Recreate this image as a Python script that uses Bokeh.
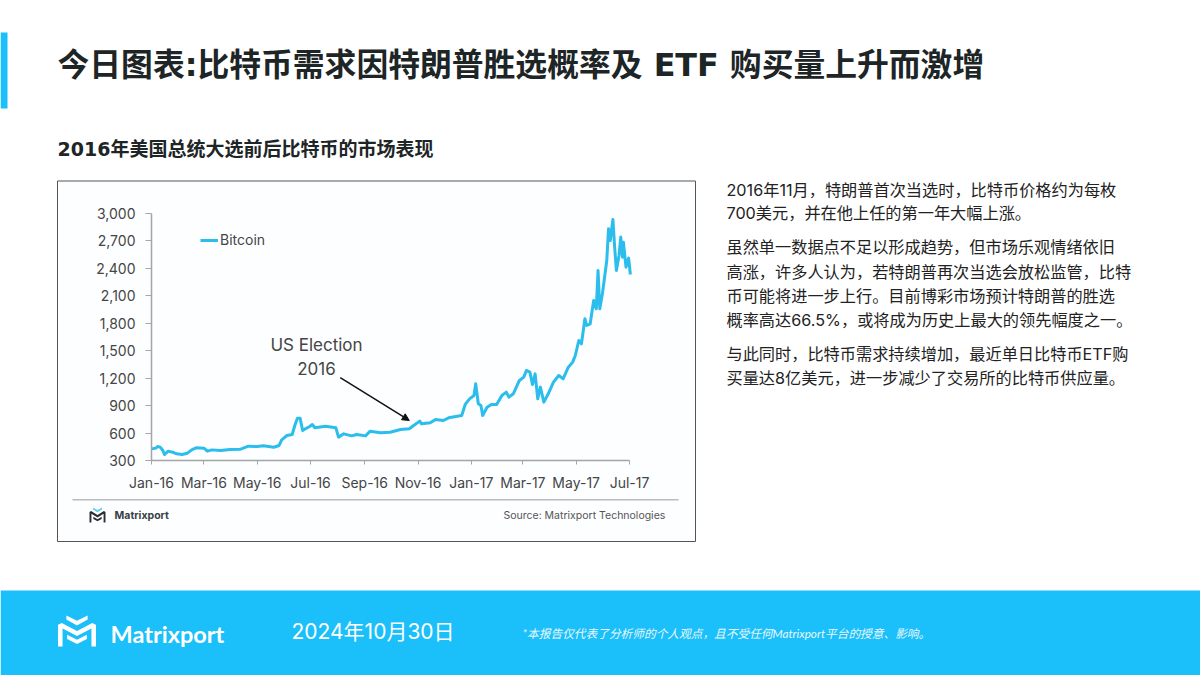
from bokeh.embed import file_html
from bokeh.resources import INLINE
from bokeh.plotting import figure
from bokeh.models import (BoxAnnotation, Label, PolyAnnotation, Arrow, NormalHead, FixedTicker, LinearAxis,
                          Legend, LegendItem, NumeralTickFormatter, Range1d, ColumnDataSource)

# ---- data ----
days_since_2016_01_01 = [0,5,7,10,13,15,19,24,29,35,41,46,51,60,64,69,79,90,102,111,121,128,140,146,149,155,161,164,167,170,173,176,181,184,187,199,211,214,220,229,235,245,250,262,273,285,295,300,307,309,319,325,334,340,355,359,364,369,371,374,377,379,384,389,395,401,406,409,414,421,426,429,433,436,439,442,445,449,454,460,466,471,477,482,485,489,492,496,498,502,506,509,511,513,516,521,523,525,528,530,532,535,537,539,540,543,546,548]
bitcoin_usd = [427,435,453,446,409,365,402,391,373,366,380,416,438,435,402,416,409,420,424,456,453,460,445,464,525,573,584,682,762,762,628,646,671,693,657,675,657,555,591,569,584,569,620,602,609,638,646,682,730,700,711,748,737,766,791,912,973,1010,1137,919,900,791,882,912,912,1010,1046,992,1028,1174,1210,1283,1265,1130,1246,973,1101,937,1028,1155,1228,1192,1319,1374,1447,1610,1574,1847,1774,1792,2047,1956,2375,1956,2120,2484,2830,2702,2932,2630,2375,2539,2739,2520,2684,2411,2510,2331]
x_tick_days = [0,60,121,182,244,305,366,425,486,547]
x_tick_labels = ["Jan-16","Mar-16","May-16","Jul-16","Sep-16","Nov-16","Jan-17","Mar-17","May-17","Jul-17"]
y_ticks = [300,600,900,1200,1500,1800,2100,2400,2700,3000]
series_name = "Bitcoin"
arrow_from_day, arrow_from_value = 216, 1206
arrow_to_day, arrow_to_value = 295, 737
election_text = ["US Election", "2016"]
title_text = "今日图表:比特币需求因特朗普胜选概率及 ETF 购买量上升而激增"
subtitle_text = "2016年美国总统大选前后比特币的市场表现"
body_lines = [
    "2016年11月，特朗普首次当选时，比特币价格约为每枚",
    "700美元，并在他上任的第一年大幅上涨。",
    "虽然单一数据点不足以形成趋势，但市场乐观情绪依旧",
    "高涨，许多人认为，若特朗普再次当选会放松监管，比特",
    "币可能将进一步上行。目前博彩市场预计特朗普的胜选",
    "概率高达66.5%，或将成为历史上最大的领先幅度之一。",
    "与此同时，比特币需求持续增加，最近单日比特币ETF购",
    "买量达8亿美元，进一步减少了交易所的比特币供应量。",
]
brand = "Matrixport"
source_text = "Source: Matrixport Technologies"
date_text = "2024年10月30日"
note_text = "*本报告仅代表了分析师的个人观点，且不受任何Matrixport平台的授意、影响。"

# ---- style ----
SANS = "Lato, 'Noto Sans CJK SC'"
HEAD = "'DejaVu Sans', 'Noto Sans CJK SC'"
BODY = "Inter, 'Noto Sans CJK SC'"
TICK = "Inter"
BLUE = "#1bbff9"
LINE = "#2bbdec"
W, H = 1200, 675
X0, X547 = 151, 629      # page x of the day-axis ends
Y300, Y3000 = 460, 212.7 # page y of the value-axis ends
ppd = (X547 - X0) / 547
ppv = (Y300 - Y3000) / 2700

p = figure(width=W, height=H, output_backend="svg", toolbar_location=None,
           x_range=Range1d(0, W), y_range=Range1d(H, 0),
           x_axis_location=None, y_axis_location=None, min_border=0,
           background_fill_color="white", border_fill_color="white", outline_line_color=None)
p.grid.visible = False
p.extra_x_ranges = {"days": Range1d(-X0 / ppd, (W - X0) / ppd)}
p.extra_y_ranges = {"usd": Range1d(300 - (H - Y300) / ppv, 300 + Y300 / ppv)}

def box(l, r_, t, b, fill, line=None, level="underlay"):
    p.add_layout(BoxAnnotation(left=l, right=r_, top=t, bottom=b,
                               left_units="canvas", right_units="canvas", top_units="canvas", bottom_units="canvas",
                               fill_color=fill, fill_alpha=1, line_color=line, line_alpha=1, line_width=1,
                               level=level, editable=False))

def text(x, y, s, size, color="#222222", font=SANS, style="normal", align="left"):
    p.add_layout(Label(x=x, y=y, x_units="canvas", y_units="canvas", text=s, text_font=font,
                       text_font_size=f"{size}px", text_font_style=style, text_color=color,
                       text_align=align, text_baseline="middle"))

def logo(x0, y0, w, h, color, top_color):
    parts = [
        ([(0,.30),(.10,.24),(.5,.50),(.90,.24),(1,.30),(1,1),(.88,1),(.88,.42),(.5,.66),(.12,.42),(.12,1),(0,1)], color),
        ([(.22,0),(.5,.17),(.78,0),(.78,.13),(.5,.32),(.22,.13)], top_color),
        ([(.24,.62),(.5,.78),(.76,.62),(.76,.76),(.5,.92),(.24,.76)], color),
    ]
    for poly, c in parts:
        p.add_layout(PolyAnnotation(xs=[x0 + a*w for a, _ in poly], ys=[y0 + b*h for _, b in poly],
                                    xs_units="canvas", ys_units="canvas", fill_color=c, fill_alpha=1,
                                    line_color=None, level="underlay"))

box(0, 7, 32, 108, BLUE)
box(0, 1200, 590, 675, BLUE)
box(57, 695, 180.5, 541, "#fdfeff", "#555555")
box(72, 678, 498.5, 500, "#b9bbbd")

src = ColumnDataSource(dict(x=days_since_2016_01_01, y=bitcoin_usd))
r = p.line("x", "y", source=src, line_color=LINE, line_width=3, line_join="round",
           x_range_name="days", y_range_name="usd")

ax = LinearAxis(x_range_name="days", y_range_name="usd", fixed_location=300, bounds=(0, 547),
                ticker=FixedTicker(ticks=x_tick_days), major_label_overrides=dict(zip(x_tick_days, x_tick_labels)))
ay = LinearAxis(x_range_name="days", y_range_name="usd", fixed_location=0, bounds=(300, 3000),
                ticker=FixedTicker(ticks=y_ticks), formatter=NumeralTickFormatter(format="0,0"))
p.add_layout(ax, "below")
p.add_layout(ay, "left")
for a, out, standoff in ((ax, 4, 9), (ay, 6, 10)):
    a.axis_line_color = "#a3a5a7"
    a.axis_line_width = 1.5
    a.major_tick_line_color = "#a3a5a7"
    a.major_tick_out = out
    a.major_tick_in = 0
    a.minor_tick_line_color = None
    a.major_label_text_font = TICK
    a.major_label_text_font_size = "14px"
    a.major_label_text_color = "#454545"
    a.major_label_standoff = standoff

leg = Legend(items=[LegendItem(label=series_name, renderers=[r])], location=(200, H - 240 - 8),
             background_fill_color=None, border_line_color=None, padding=0, margin=0,
             glyph_width=18, glyph_height=16, label_standoff=2,
             label_text_font=TICK, label_text_font_size="14px", label_text_color="#454545")
p.add_layout(leg)

text(57, 64, title_text, 31.8, "#1d2526", font=HEAD, style="bold")
text(57, 148, subtitle_text, 19, "#1d2526", font=HEAD, style="bold")

for y, s in zip([189, 212.7, 246.5, 271, 295, 319, 353, 377], body_lines):
    text(726, y, s, 16.2, font=BODY)

for y, s in zip([344, 368], election_text):
    text(316, y, s, 17, "#454545", font=TICK, align="center")
p.add_layout(Arrow(x_start=arrow_from_day, y_start=arrow_from_value, x_end=arrow_to_day, y_end=arrow_to_value,
                   x_range_name="days", y_range_name="usd",
                   line_color="#111111", line_width=1.5,
                   end=NormalHead(size=7, fill_color="#111111", line_color="#111111")))

logo(89, 507, 16, 15, "#2a2f33", "#5fcfee")
text(114, 515, brand, 10.5, "#3a3f44", font=TICK, style="bold")
text(503, 515, source_text, 10.5, "#555555", font=TICK)

logo(57.5, 615, 38, 31, "white", "white")
text(110, 633, brand, 23.5, "white", style="bold")
text(291, 631, date_text, 21, "white", font=BODY)
text(522, 632, note_text, 11.7, "#e8f8ff", style="italic")

open("out.html", "w").write(file_html(p, INLINE))
